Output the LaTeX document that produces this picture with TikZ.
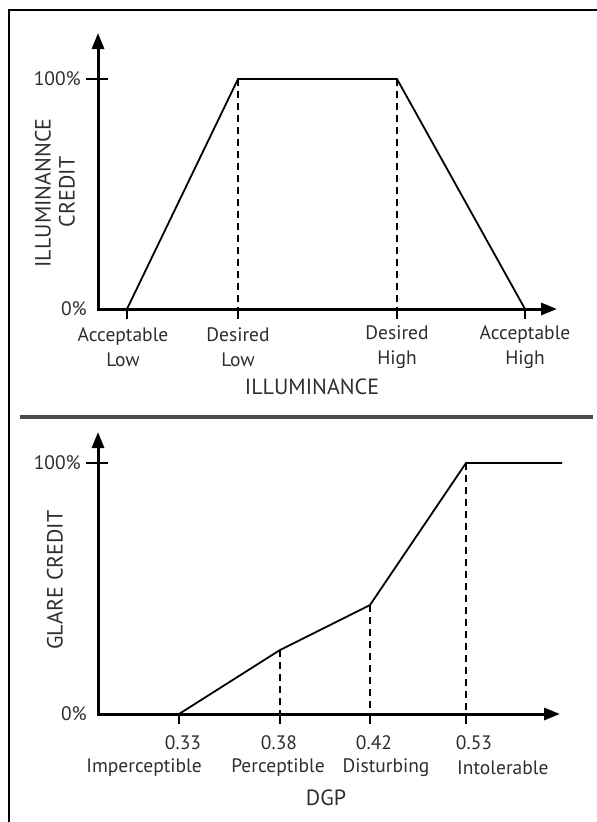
\documentclass[tikz,border=0pt]{standalone}
\usepackage{fontspec}
\setmainfont{PT Sans}
\usetikzlibrary{arrows.meta}
\definecolor{txt}{HTML}{2E2E2E}
\begin{document}
\begin{tikzpicture}[x=1pt,y=-1pt,
 axis/.style={line width=3pt,{Triangle[length=16pt,width=12pt]}-{Triangle[length=16pt,width=12pt]}},
 curve/.style={line width=1.8pt,line join=miter},
 guide/.style={line width=1.6pt,dash pattern=on 7pt off 5pt},
 tickmark/.style={line width=1.8pt},
 lab/.style={font=\fontsize{19.5}{25}\selectfont,text=txt,align=center,inner sep=0pt},
 ttl/.style={font=\fontsize{22}{26}\selectfont,text=txt,inner sep=0pt},
]
\useasboundingbox (0,0) rectangle (597,822);
\begin{scope}
\clip (0,0) rectangle (597,822);
\draw[line width=2pt] (9,10) rectangle (620,840);
\end{scope}
\draw[line width=3.5pt,color=black!70] (20,417) -- (593,417);

% ---------- top chart ----------
\coordinate (y1) at (98,33);
\coordinate (o1) at (98,309);
\coordinate (x1) at (557,309);
\coordinate (al) at (127,309);
\coordinate (dl) at (238,79);
\coordinate (dh) at (397,79);
\coordinate (ah) at (525,309);
\coordinate (dlb) at (238,309);
\coordinate (dhb) at (397,309);
\coordinate (ta1) at (86,79);
\coordinate (tb1) at (108,79);

\draw[axis] (y1) -- (o1) -- (x1);
\draw[tickmark] (ta1) -- (tb1);
\foreach \c in {al,dlb,dhb,ah} \draw[tickmark] (\c) -- ++(0,10);
\draw[guide] (dl) -- (dlb);
\draw[guide] (dh) -- (dhb);
\draw[curve] (al) -- (dl) -- (dh) -- (ah);

\node[lab,anchor=east] (p100a) at (81,79) {100\%};
\node[lab,anchor=east] (p0a) at (87,309) {0\%};
\node[lab] (lal) at (123,347) {Acceptable\\Low};
\node[lab] (ldl) at (238,347) {Desired\\Low};
\node[lab] (ldh) at (397,347) {Desired\\High};
\node[lab] (lah) at (525,347) {Acceptable\\High};
\node[ttl] (xt1) at (312,387) {ILLUMINANCE};
\node[ttl,rotate=90] (yt1a) at (43,193) {ILLUMINANNCE};
\node[ttl,rotate=90] (yt1b) at (67,192) {CREDIT};

% ---------- bottom chart ----------
\coordinate (y2) at (98,432);
\coordinate (o2) at (98,714);
\coordinate (x2) at (560,714);
\coordinate (q33) at (179,714);
\coordinate (q38) at (280,650);
\coordinate (q42) at (370,605);
\coordinate (q53) at (466,463);
\coordinate (qend) at (562,463);
\coordinate (q38b) at (280,714);
\coordinate (q42b) at (370,714);
\coordinate (q53b) at (466,714);
\coordinate (ta2) at (86,463);
\coordinate (tb2) at (108,463);

\draw[axis] (y2) -- (o2) -- (x2);
\draw[tickmark] (ta2) -- (tb2);
\foreach \c in {q33,q38b,q42b,q53b} \draw[tickmark] (\c) -- ++(0,10);
\draw[guide] (q38) -- (q38b);
\draw[guide] (q42) -- (q42b);
\draw[guide] (q53) -- (q53b);
\draw[curve] (q33) -- (q38) -- (q42) -- (q53) -- (qend);

\node[lab,anchor=east] (p100b) at (81,463) {100\%};
\node[lab,anchor=east] (p0b) at (87,714) {0\%};
\node[lab] (n33) at (183,743) {0.33};
\node[lab] (n38) at (279,743) {0.38};
\node[lab] (n42) at (374,743) {0.42};
\node[lab] (n53) at (474,743) {0.53};
\node[lab,anchor=east] (w33) at (202,768) {Imperceptible};
\node[lab] (w38) at (278,768) {Perceptible};
\node[lab] (w42) at (386,768) {Disturbing};
\node[lab,anchor=west] (w53) at (457,768) {Intolerable};
\node[ttl] (xt2) at (326,798) {DGP};
\node[ttl,rotate=90] (yt2) at (55,580) {GLARE CREDIT};
\end{tikzpicture}
\end{document}
